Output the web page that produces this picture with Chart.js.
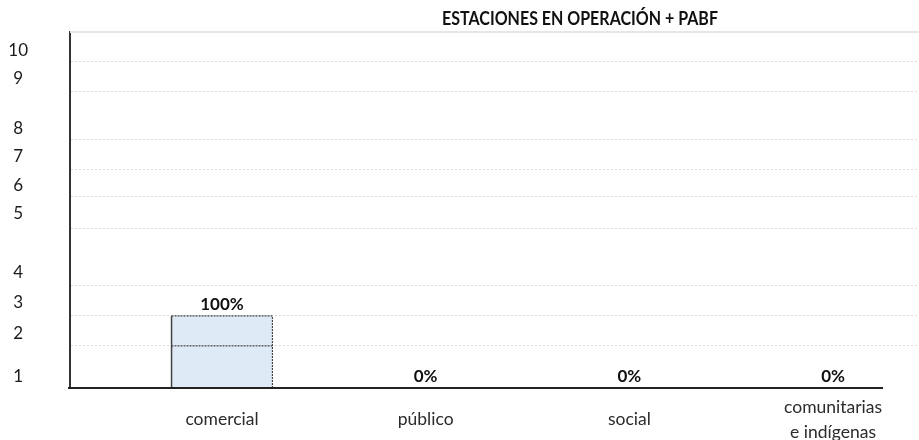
<!DOCTYPE html>
<html>
<head>
<meta charset="utf-8">
<script src="https://cdn.jsdelivr.net/npm/chart.js@4"></script>
<style>
  html, body { margin: 0; padding: 0; background: #fff; }
  #wrap { width: 919px; height: 440px; }
</style>
</head>
<body>
<div id="wrap"><canvas id="grafico"></canvas></div>
<script>
// datos
const titulo = "ESTACIONES EN OPERACIÓN + PABF";
const categorias = ["comercial", "público", "social", ["comunitarias", "e indígenas"]];
const tramoInferior = [1.42, 0, 0, 0];
const tramoSuperior = [1.01, 0, 0, 0];
const porcentajes = ["100%", "0%", "0%", "0%"];

// eje y (las etiquetas del original no siguen una escala regular)
const etiquetasY = ["1", "2", "3", "4", "5", "6", "7", "8", "9", "10"];
const posicionesY = [0.39, 1.82, 2.88, 3.89, 5.87, 6.84, 7.80, 8.75, 10.42, 11.36];
const lineasGuia = [1.42, 2.43, 3.44, 5.39, 6.44, 7.38, 8.39, 10.01, 10.99, 12];

const FUENTE = "Lato, 'Liberation Sans', sans-serif";
const cerca = (a, b) => Math.abs(a - b) < 1e-6;

// bordes punteados de la barra, eje x, porcentajes y titulo
const extras = {
  id: "extras",
  afterDatasetsDraw(chart) {
    const ctx = chart.ctx;
    const a = chart.chartArea;
    ctx.save();
    chart.data.datasets.forEach((ds, d) => {
      chart.getDatasetMeta(d).data.forEach(bar => {
        const h = bar.base - bar.y;
        if (h <= 0.5) return;
        const l = bar.x - bar.width / 2, r = bar.x + bar.width / 2;
        ctx.lineWidth = 1.5;
        ctx.strokeStyle = "#444";
        ctx.setLineDash([]);
        ctx.beginPath(); ctx.moveTo(l, bar.base); ctx.lineTo(l, bar.y); ctx.stroke();
        ctx.lineWidth = 1;
        ctx.strokeStyle = "#222";
        ctx.setLineDash([2, 1]);
        ctx.beginPath();
        ctx.moveTo(l, bar.y); ctx.lineTo(r, bar.y); ctx.lineTo(r, bar.base);
        ctx.stroke();
      });
    });
    ctx.setLineDash([]);
    // eje x (termina antes del borde derecho)
    ctx.strokeStyle = "#222";
    ctx.lineWidth = 2;
    ctx.beginPath(); ctx.moveTo(a.left - 2, a.bottom); ctx.lineTo(a.right - 36, a.bottom); ctx.stroke();
    const arriba = chart.getDatasetMeta(1).data;
    ctx.fillStyle = "#111";
    ctx.font = "bold 17px " + FUENTE;
    ctx.textAlign = "center";
    ctx.textBaseline = "bottom";
    arriba.forEach((bar, i) => ctx.fillText(porcentajes[i], bar.x, bar.y - 3));
    ctx.restore();
  },
  afterDraw(chart) {
    const ctx = chart.ctx;
    const a = chart.chartArea;
    ctx.save();
    ctx.strokeStyle = "#e6e6e6";
    ctx.lineWidth = 2;
    ctx.beginPath(); ctx.moveTo(a.left, a.top); ctx.lineTo(chart.width, a.top); ctx.stroke();
    ctx.fillStyle = "#111";
    ctx.font = "bold 18px " + FUENTE;
    ctx.textAlign = "center";
    ctx.textBaseline = "middle";
    ctx.translate(580, 19);
    ctx.scale(0.89, 1);
    ctx.fillText(titulo, 0, 0);
    ctx.restore();
  }
};

new Chart(document.getElementById("grafico"), {
  type: "bar",
  data: {
    datasets: [
      {
        data: tramoInferior.map((v, i) => ({ x: i, y: v })),
        backgroundColor: "#deeaf6",
        borderWidth: 0
      },
      {
        data: tramoSuperior.map((v, i) => ({ x: i, y: v })),
        backgroundColor: "#deeaf6",
        borderWidth: 0
      }
    ]
  },
  options: {
    responsive: true,
    maintainAspectRatio: false,
    animation: false,
    events: [],
    datasets: { bar: { barPercentage: 0.495, categoryPercentage: 1 } },
    layout: { padding: { top: 32, left: 0, right: 0, bottom: 0 } },
    plugins: { legend: { display: false }, title: { display: false }, tooltip: { enabled: false } },
    scales: {
      x: {
        type: "linear",
        stacked: true,
        offset: false,
        min: -0.746,
        max: 3.422,
        afterBuildTicks: s => { s.ticks = categorias.map((c, i) => ({ value: i })); },
        afterFit: s => { s.height = 52; },
        grid: { display: false, offset: false },
        border: { display: false },
        ticks: {
          autoSkip: false,
          maxRotation: 0,
          crossAlign: "center",
          padding: 11,
          color: "#2b2b2b",
          font: { family: FUENTE, size: 17.5, lineHeight: 1.45 },
          callback: (v, i) => categorias[i]
        }
      },
      y: {
        stacked: true,
        min: 0,
        max: 12,
        afterBuildTicks: s => {
          s.ticks = lineasGuia.concat(posicionesY).sort((a, b) => a - b).map(v => ({ value: v }));
        },
        afterFit: s => { s.width = 70; s.paddingTop = 0; s.paddingBottom = 0; },
        grid: {
          drawTicks: false,
          lineWidth: 1,
          color: c => (c.tick && lineasGuia.some(v => cerca(v, c.tick.value)) && c.tick.value < 12) ? "#d9d9d9" : "rgba(0,0,0,0)"
        },
        border: { display: true, color: "#333", width: 2, dash: [2, 2] },
        ticks: {
          autoSkip: false,
          crossAlign: "center",
          padding: 42,
          color: "#1a1a1a",
          font: { family: FUENTE, size: 17 },
          callback: v => {
            const k = posicionesY.findIndex(p => cerca(p, v));
            return k >= 0 ? etiquetasY[k] : "";
          }
        }
      }
    }
  },
  plugins: [extras]
});
</script>
</body>
</html>
